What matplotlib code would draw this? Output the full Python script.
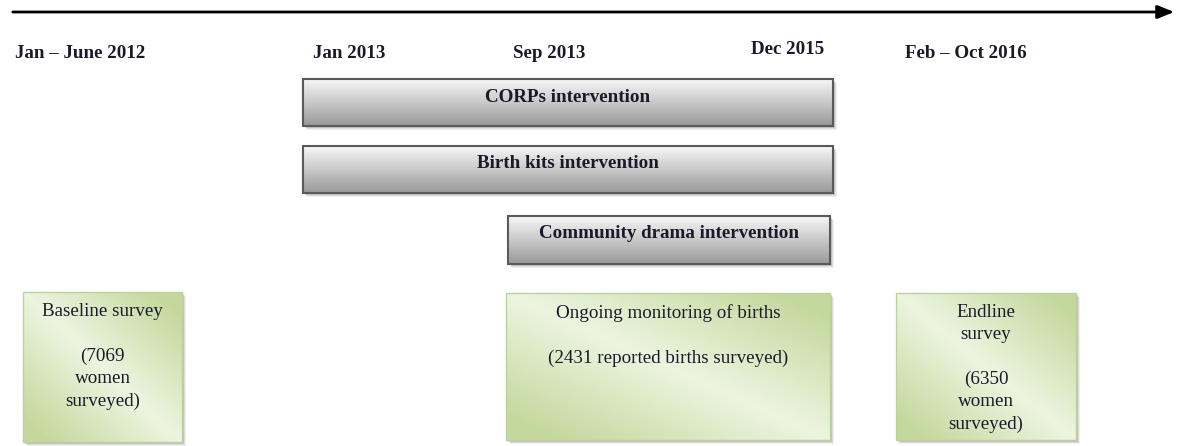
import numpy as np
import matplotlib.pyplot as plt
from matplotlib.patches import Rectangle, FancyArrowPatch

# data
date_labels = ['Jan \u2013 June 2012', 'Jan 2013', 'Sep 2013', 'Dec 2015', 'Feb \u2013 Oct 2016']
interventions = ['CORPs intervention', 'Birth kits intervention', 'Community drama intervention']
surveys = ['Baseline survey\n\n(7069\nwomen\nsurveyed)',
           'Ongoing monitoring of births\n\n(2431 reported births surveyed)',
           'Endline\nsurvey\n\n(6350\nwomen\nsurveyed)']

# layout in pixels (x0, x1, y0, y1)
date_pos = [(15, 53), (313, 53), (513, 53), (751, 50), (905, 53)]
bar_boxes = [(303, 833, 79, 126), (303, 833, 146, 193), (508, 830, 216, 264)]
survey_boxes = [(23, 182, 292, 442), (506, 830, 293, 440), (896, 1076, 293, 440)]

W, H = 1177, 446
fig = plt.figure(figsize=(W / 100, H / 100), dpi=100)
ax = fig.add_axes([0, 0, 1, 1])
ax.set_xlim(0, W)
ax.set_ylim(H, 0)
ax.axis('off')

serif = 'Liberation Serif'
fs = 13.7

# timeline arrow
arr = FancyArrowPatch((10, 12), (1177, 12), arrowstyle='-|>,head_length=10,head_width=4',
                      mutation_scale=1, lw=2, color='black')
ax.add_patch(arr)

for lab, (x, y) in zip(date_labels, date_pos):
    ax.text(x, y, lab, fontsize=fs, fontweight='bold', family=serif,
            ha='left', va='center', color='#1a1a2a')


def shadow(x0, x1, y0, y1):
    for k, a in [(4, 0.06), (3, 0.08), (2, 0.12)]:
        ax.add_patch(Rectangle((x0 + k, y0 + k), x1 - x0, y1 - y0,
                               facecolor='black', edgecolor='none', alpha=a, zorder=1))


# gray intervention bars
for lab, (x0, x1, y0, y1) in zip(interventions, bar_boxes):
    shadow(x0, x1, y0, y1)
    grad = np.linspace(0, 1, 100)[:, None]
    top = np.array([0.97, 0.97, 0.97])
    bot = np.array([0.60, 0.60, 0.60])
    img = top + (bot - top) * grad[:, :, None] * np.ones((1, 2, 1))
    ax.imshow(img, extent=(x0, x1, y1, y0), aspect='auto', zorder=2, interpolation='bilinear')
    ax.add_patch(Rectangle((x0, y0), x1 - x0, y1 - y0, facecolor='none',
                           edgecolor='#5a5a5a', lw=1.5, zorder=3))
    ax.text((x0 + x1) / 2, y0 + 18, lab, fontsize=fs, fontweight='bold', family=serif,
            ha='center', va='center', color='#1a1a2a', zorder=4)

# green survey boxes
light = np.array([0.93, 0.96, 0.88])
green = np.array([0.77, 0.85, 0.62])
for lab, (x0, x1, y0, y1) in zip(surveys, survey_boxes):
    shadow(x0, x1, y0, y1)
    u, v = np.meshgrid(np.linspace(0, 1, 120), np.linspace(0, 1, 120))
    t = np.clip(np.abs(u - v) * 1.2, 0, 1)[:, :, None]
    img = light + (green - light) * t
    ax.imshow(img, extent=(x0, x1, y1, y0), aspect='auto', zorder=2, interpolation='bilinear')
    ax.add_patch(Rectangle((x0, y0), x1 - x0, y1 - y0, facecolor='none',
                           edgecolor='#bdd19a', lw=1, zorder=3))
    ax.text((x0 + x1) / 2, y0 + 11, lab, fontsize=fs, family=serif,
            ha='center', va='top', color='#1a1a2a', linespacing=1.4, zorder=4)

ax.set_xlim(0, W)
ax.set_ylim(H, 0)
fig.savefig('out.png', dpi=100)
